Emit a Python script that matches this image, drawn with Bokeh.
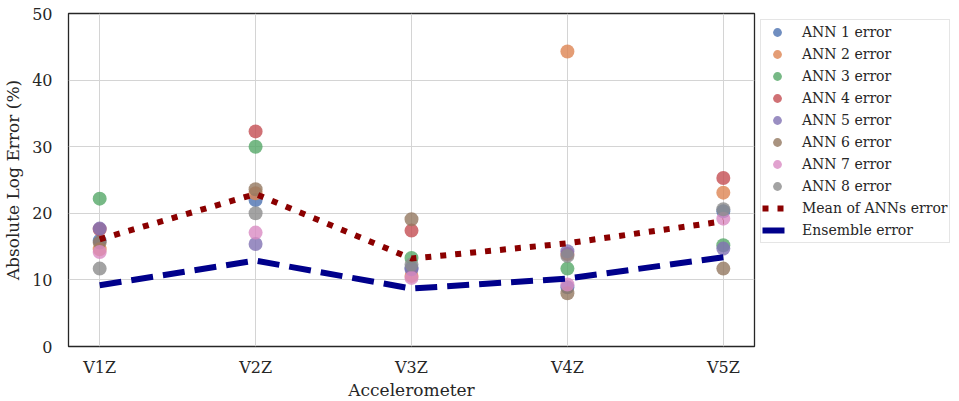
from bokeh.plotting import figure
from bokeh.models import FixedTicker, Legend, LegendItem, Range1d
from bokeh.embed import file_html
from bokeh.resources import INLINE

categories = ["V1Z", "V2Z", "V3Z", "V4Z", "V5Z"]
ann1 = [15.9, 22.0, 11.8, 8.9, 20.3]
ann2 = [14.6, 23.0, 10.6, 44.3, 23.1]
ann3 = [22.2, 30.0, 13.3, 11.7, 15.2]
ann4 = [17.6, 32.3, 17.4, 13.9, 25.3]
ann5 = [17.7, 15.4, 11.6, 14.3, 14.7]
ann6 = [15.6, 23.6, 19.1, 8.0, 11.7]
ann7 = [14.2, 17.1, 10.3, 9.3, 19.2]
ann8 = [11.7, 20.0, 12.3, 13.6, 20.6]
mean_err = [16.1, 22.9, 13.2, 15.5, 18.8]
ensemble_err = [9.2, 12.9, 8.7, 10.2, 13.4]
y_ticks = [0, 10, 20, 30, 40, 50]

series = [ann1, ann2, ann3, ann4, ann5, ann6, ann7, ann8]
names = ["ANN %d error" % (i + 1) for i in range(8)]
colors = ["#4C72B0", "#DD8452", "#55A868", "#C44E52",
          "#8172B3", "#937860", "#DA8BC3", "#8C8C8C"]

FONT = "DejaVu Serif"
xs = list(range(len(categories)))

p = figure(frame_width=686, frame_height=333, output_backend="svg",
           toolbar_location=None,
           x_range=Range1d(-0.2, 4.2), y_range=Range1d(0, 50),
           min_border_left=57, min_border_top=13, min_border_bottom=44,
           min_border_right=0)

items = []
for vals, name, c in zip(series, names, colors):
    r = p.scatter(xs, vals, size=14, fill_color=c, line_color=c,
                  fill_alpha=0.8, line_alpha=0.0)
    items.append(LegendItem(label=name, renderers=[r]))

r_mean = p.line(xs, mean_err, line_color="#8B0000", line_width=6,
                line_dash="6 9")
items.append(LegendItem(label="Mean of ANNs error", renderers=[r_mean]))
r_ens = p.line(xs, ensemble_err, line_color="#00008B", line_width=6,
               line_dash="22 10")
items.append(LegendItem(label="Ensemble error", renderers=[r_ens]))

legend = Legend(items=items, location="top_left",
                label_text_font=FONT, label_text_font_size="14px",
                label_text_color="#262626",
                glyph_width=30, glyph_height=22, label_height=22,
                label_standoff=10,
                spacing=0, padding=1, margin=6,
                border_line_color="#cccccc", border_line_width=1,
                background_fill_alpha=1.0)
p.add_layout(legend, "right")

p.xaxis.ticker = FixedTicker(ticks=xs)
p.xaxis.major_label_overrides = {i: c for i, c in enumerate(categories)}
p.yaxis.ticker = FixedTicker(ticks=y_ticks)
p.xaxis.axis_label = "Accelerometer"
p.yaxis.axis_label = "Absolute Log Error (%)"
for ax in (p.xaxis[0], p.yaxis[0]):
    ax.axis_label_text_font = FONT
    ax.axis_label_text_font_size = "17px"
    ax.axis_label_text_font_style = "normal"
    ax.axis_label_text_color = "#262626"
    ax.major_label_text_font = FONT
    ax.major_label_text_font_size = "16px"
    ax.major_label_text_color = "#262626"
    ax.axis_line_color = None
    ax.major_tick_line_color = None
    ax.minor_tick_line_color = None
p.xaxis.major_label_standoff = 5
p.xaxis.axis_label_standoff = 0
p.yaxis.major_label_standoff = 10
p.yaxis.axis_label_standoff = 6

p.xgrid.grid_line_color = "#d4d4d4"
p.ygrid.grid_line_color = "#d4d4d4"
p.xgrid.grid_line_width = 1
p.ygrid.grid_line_width = 1
p.outline_line_color = "#262626"
p.outline_line_width = 1.3
p.outline_line_alpha = 1.0

open("out.html", "w").write(file_html(p, INLINE))
